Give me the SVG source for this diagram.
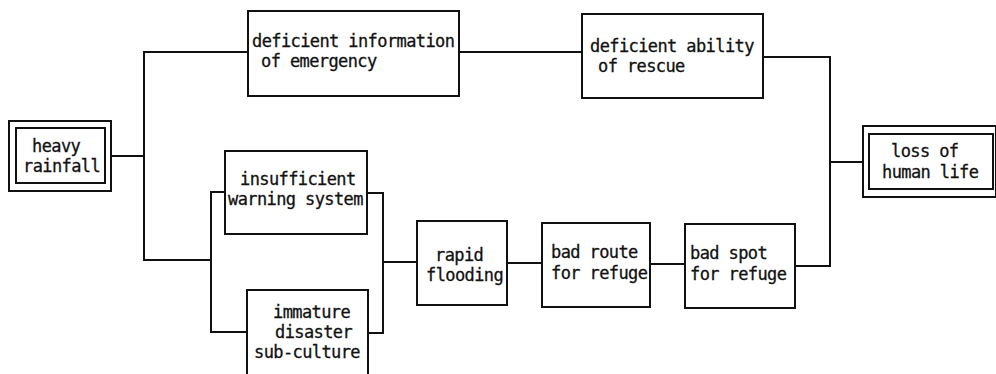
<svg xmlns="http://www.w3.org/2000/svg" width="996" height="374" viewBox="0 0 996 374">
<style>
.box{fill:none;stroke:#111;stroke-width:2}
.ln{fill:none;stroke:#111;stroke-width:2}
text{font-family:"DejaVu Sans Mono","Liberation Mono",monospace;font-size:17px;letter-spacing:-0.6px;fill:#111;stroke:#111;stroke-width:0.3}
</style>
<rect x="0" y="0" width="996" height="374" fill="#fff"/>
<g id="connectors">
<polyline class="ln" points="111,156 144,156"/>
<polyline class="ln" points="248,52 144,52 144,260 211,260"/>
<polyline class="ln" points="459,52 582,52"/>
<polyline class="ln" points="225,192 211,192 211,332 247,332"/>
<polyline class="ln" points="367,193 383,193 383,333 368,333"/>
<polyline class="ln" points="383,262 417,262"/>
<polyline class="ln" points="507,263 542,263"/>
<polyline class="ln" points="650,264 685,264"/>
<polyline class="ln" points="763,57 830,57 830,266 795,266"/>
<polyline class="ln" points="830,162 863,162"/>
</g>
<g id="heavy-rainfall">
<rect class="box" x="9" y="121" width="102" height="70"/>
<rect class="box" x="16" y="128" width="89" height="55"/>
<text x="32" y="152">heavy</text>
<text x="23" y="172">rainfall</text>
</g>
<g id="deficient-information">
<rect class="box" x="248" y="11" width="211" height="85"/>
<text x="252" y="47">deficient information</text>
<text x="261" y="67">of emergency</text>
</g>
<g id="deficient-ability">
<rect class="box" x="582" y="14" width="181" height="84"/>
<text x="590" y="52">deficient ability</text>
<text x="598" y="72">of rescue</text>
</g>
<g id="insufficient-warning">
<rect class="box" x="225" y="151" width="142" height="83"/>
<text x="240" y="185">insufficient</text>
<text x="228" y="205">warning system</text>
</g>
<g id="immature-disaster">
<rect class="box" x="247" y="290" width="121" height="92"/>
<text x="273" y="318">immature</text>
<text x="275" y="338">disaster</text>
<text x="254" y="358">sub-culture</text>
</g>
<g id="rapid-flooding">
<rect class="box" x="417" y="221" width="90" height="84"/>
<text x="435" y="261">rapid</text>
<text x="426" y="281">flooding</text>
</g>
<g id="bad-route">
<rect class="box" x="542" y="223" width="108" height="84"/>
<text x="551" y="258">bad route</text>
<text x="551" y="279">for refuge</text>
</g>
<g id="bad-spot">
<rect class="box" x="685" y="224" width="110" height="84"/>
<text x="690" y="259">bad spot</text>
<text x="690" y="280">for refuge</text>
</g>
<g id="loss-of-human-life">
<rect class="box" x="863" y="126" width="133" height="71"/>
<rect class="box" x="869" y="134" width="124" height="55"/>
<text x="891" y="157">loss of</text>
<text x="882" y="178">human life</text>
</g>
</svg>
